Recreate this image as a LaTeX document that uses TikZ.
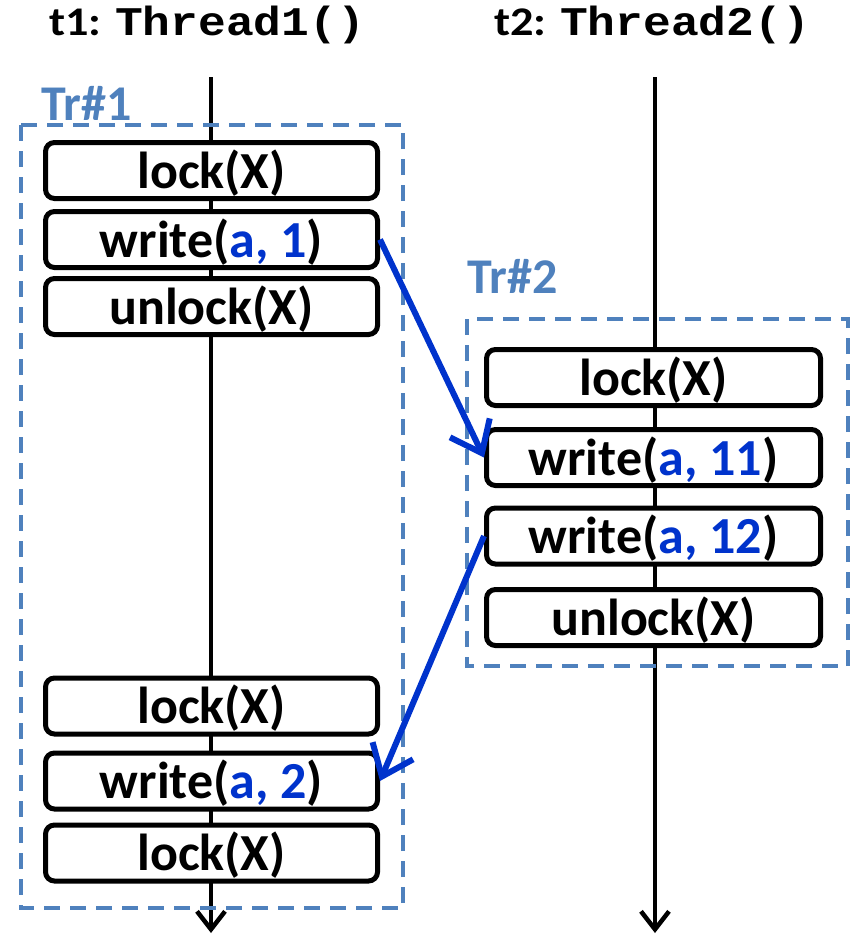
\documentclass[tikz,border=0pt]{standalone}
\usepackage{fontspec}
\setmainfont{Carlito}
\newfontfamily\monob{Liberation Mono}
\usetikzlibrary{arrows.meta}
\definecolor{trblue}{HTML}{4F81BD}
\definecolor{wblue}{HTML}{0033CC}
\tikzset{
  op/.style={draw, line width=5pt, rounded corners=9pt, fill=white,
    minimum width=332pt, minimum height=56pt, inner sep=0pt,
    font=\fontsize{52}{60}\selectfont\bfseries, text height=35pt, text depth=0pt},
  thread/.style={line width=4.5pt, -{Straight Barb[length=18pt,width=28pt]}},
  tx/.style={draw=trblue, line width=3.5pt, dash pattern=on 16pt off 10pt},
  trlabel/.style={text=trblue, font=\fontsize{50}{60}\selectfont\bfseries,
    anchor=base west, inner sep=0pt},
  title/.style={anchor=base, inner sep=0pt, font=\fontsize{37}{40}\selectfont\bfseries},
  flow/.style={draw=wblue, line width=6pt, -{Straight Barb[length=28pt,width=44pt]}},
}
\newcommand{\wv}[1]{write(\textcolor{wblue}{#1})}
\begin{document}
\begin{tikzpicture}[x=1pt,y=-1pt]
\useasboundingbox (0,0) rectangle (850,934);
% titles
\node[title] (h1) at (207,36) {\scalebox{1.25}[1.1]{t1: {\monob\bfseries Thread1()}}};
\node[title] (h2) at (652,36) {\scalebox{1.25}[1.1]{t2: {\monob\bfseries Thread2()}}};
% thread lines
\coordinate (t1top) at (211,77);
\coordinate (t1bot) at (211,933);
\coordinate (t2top) at (655,77);
\coordinate (t2bot) at (655,933);
\draw[thread] (t1top) -- (t1bot);
\draw[thread] (t2top) -- (t2bot);
% transactions
\draw[tx] (21,125) rectangle (403,908);
\node[trlabel] (tr1) at (41,120) {Tr\#1};
\draw[tx] (467,319) rectangle (848,666);
\node[trlabel] (tr2) at (467,293) {Tr\#2};
% thread 1 operations
\node[op] (a1) at (211.5,170.5) {lock(X)};
\node[op] (a2) at (211.5,239.5) {\wv{a, 1}};
\node[op] (a3) at (211.5,306.5) {unlock(X)};
\node[op] (a4) at (211.5,706) {lock(X)};
\node[op] (a5) at (211.5,781) {\wv{a, 2}};
\node[op] (a6) at (211.5,853) {lock(X)};
% thread 2 operations
\node[op, minimum width=334pt] (b1) at (653.5,377.5) {lock(X)};
\node[op, minimum width=334pt] (b2) at (653.5,457.5) {\wv{a, 11}};
\node[op, minimum width=334pt] (b3) at (653.5,536) {\wv{a, 12}};
\node[op, minimum width=334pt] (b4) at (653.5,617.5) {unlock(X)};
% flows
\draw[flow] (a2.east) -- (b2.west);
\draw[flow] (b3.west) -- (a5.east);
\end{tikzpicture}
\end{document}
